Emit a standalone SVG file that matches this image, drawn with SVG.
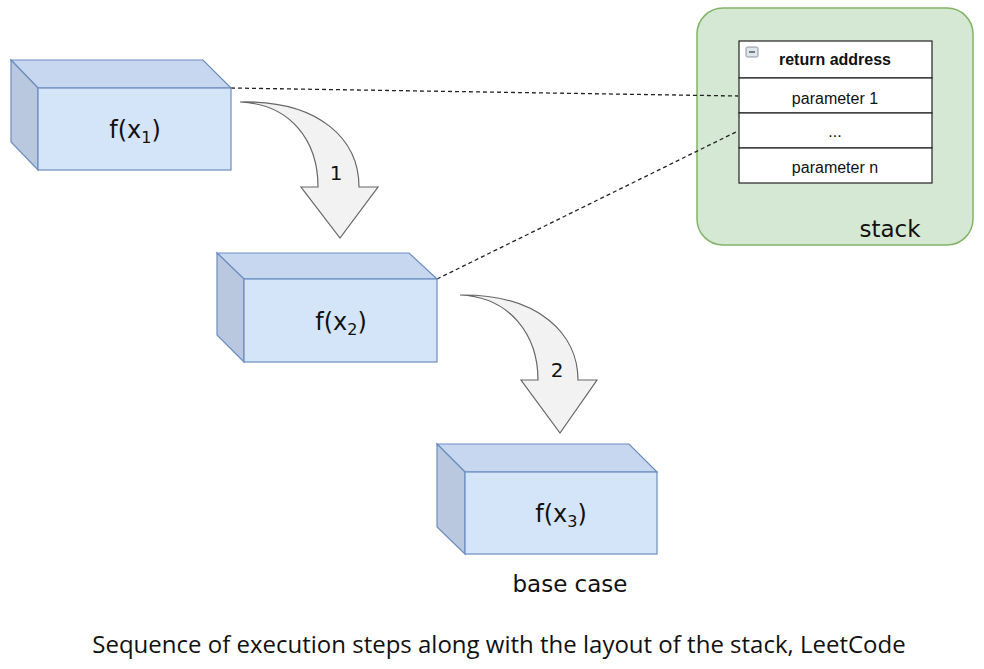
<svg xmlns="http://www.w3.org/2000/svg" width="984" height="669" viewBox="0 0 984 669">
<style>
.front{fill:#d4e4f9;stroke:#6c8ebf;stroke-width:1.2}
.top{fill:#c7d7ef;stroke:#6c8ebf;stroke-width:1.2}
.side{fill:#b9c8df;stroke:#6c8ebf;stroke-width:1.2}
.fx{font-family:"DejaVu Sans",sans-serif;font-size:24px;fill:#111;text-anchor:middle}
.sub{font-size:16px}
.arr{fill:#f2f2f2;stroke:#666;stroke-width:1.2}
.num{font-family:"DejaVu Sans",sans-serif;font-size:20px;fill:#111;text-anchor:middle}
.dot{fill:none;stroke:#222;stroke-width:1.3;stroke-dasharray:4 3}
.cell{fill:#fff;stroke:#222;stroke-width:1.2}
.tt{font-family:"Liberation Sans",Arial,sans-serif;font-size:16px;fill:#111;text-anchor:middle}
.lbl{font-family:"DejaVu Sans",sans-serif;font-size:23px;fill:#111;text-anchor:middle}
</style>
<rect width="984" height="669" fill="#fff"/>
<g id="stack">
<rect x="697" y="8" width="276" height="237" rx="26" fill="#d5e8d4" stroke="#82b366" stroke-width="1.5"/>
<rect class="cell" x="739" y="41" width="193" height="37"/>
<rect class="cell" x="739" y="78" width="193" height="35"/>
<rect class="cell" x="739" y="113" width="193" height="35"/>
<rect class="cell" x="739" y="148" width="193" height="35"/>
<rect x="746" y="47" width="12" height="10" rx="1.5" fill="#dfe6ee" stroke="#7d8a99" stroke-width="0.9"/>
<line x1="749" y1="52" x2="755" y2="52" stroke="#333" stroke-width="1.2"/>
<text class="tt" x="835" y="65" font-weight="bold">return address</text>
<text class="tt" x="835" y="104">parameter 1</text>
<text class="tt" x="835" y="137">...</text>
<text class="tt" x="835" y="173">parameter n</text>
<text class="lbl" x="890" y="237">stack</text>
</g>
<g id="connectors">
<line class="dot" x1="231" y1="88" x2="738" y2="96"/>
<line class="dot" x1="437" y1="279" x2="738" y2="131"/>
</g>
<g id="f1">
<polygon class="top" points="11,60 203,60 231,88 38,88"/>
<polygon class="side" points="11,60 38,88 38,170 11,142"/>
<rect class="front" x="38" y="88" width="193" height="82"/>
<text class="fx" x="135" y="138">f(x<tspan class="sub" dy="5">1</tspan><tspan dy="-5">)</tspan></text>
</g>
<g id="f2">
<polygon class="top" points="217,253 409,253 437,279 244,279"/>
<polygon class="side" points="217,253 244,279 244,362 217,335"/>
<rect class="front" x="244" y="279" width="193" height="83"/>
<text class="fx" x="341" y="330">f(x<tspan class="sub" dy="5">2</tspan><tspan dy="-5">)</tspan></text>
</g>
<g id="f3">
<polygon class="top" points="437,444 629,444 657,472 465,472"/>
<polygon class="side" points="437,444 465,472 465,554 437,527"/>
<rect class="front" x="465" y="472" width="192" height="82"/>
<text class="fx" x="561" y="522">f(x<tspan class="sub" dy="5">3</tspan><tspan dy="-5">)</tspan></text>
<text class="lbl" x="570" y="592">base case</text>
</g>
<g id="arrow1">
<path class="arr" d="M240,102 C320,100 359,140 359,187 L378,187 L340,238 L301,187 L318,187 C318,140 290,104 240,102 Z"/>
<text class="num" x="336" y="180">1</text>
</g>
<g id="arrow2">
<path class="arr" d="M460,295 C540,294 578,335 578,380 L597,380 L560,433 L521,380 L538,380 C538,335 510,297 460,295 Z"/>
<text class="num" x="557" y="377">2</text>
</g>
<text x="499" y="653" font-family="'Open Sans',sans-serif" font-size="24" fill="#111" text-anchor="middle">Sequence of execution steps along with the layout of the stack, LeetCode</text>
</svg>
